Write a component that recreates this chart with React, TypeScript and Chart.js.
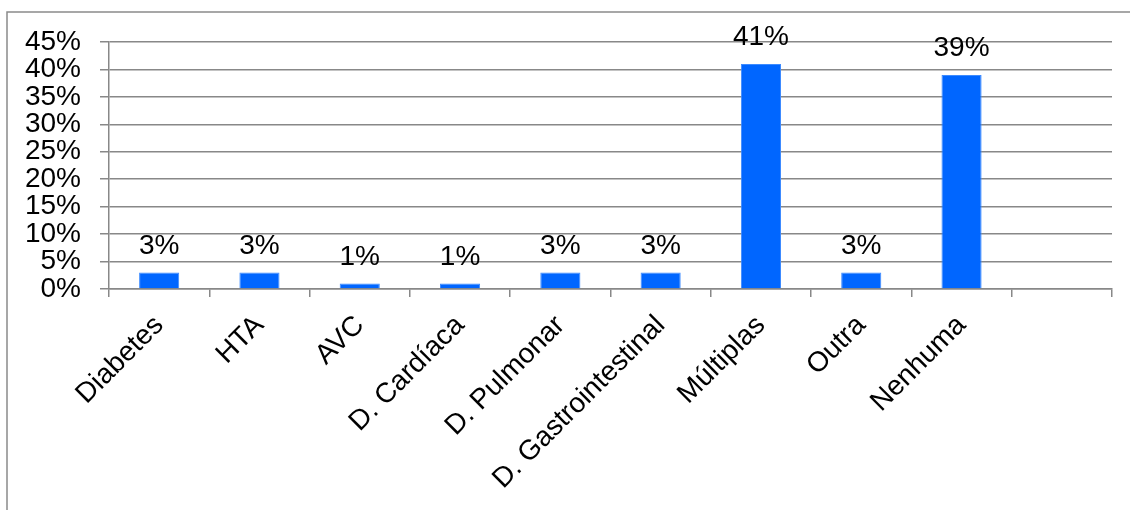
import React, { useEffect, useRef } from "react";
import { Chart, registerables } from "chart.js";

Chart.register(...registerables);

const categories = [
  "Diabetes",
  "HTA",
  "AVC",
  "D. Cardíaca",
  "D. Pulmonar",
  "D. Gastrointestinal",
  "Múltiplas",
  "Outra",
  "Nenhuma",
  "",
];
const percentages: (number | null)[] = [3, 3, 1, 1, 3, 3, 41, 3, 39, null];
const yTicks = [0, 5, 10, 15, 20, 25, 30, 35, 40, 45];

const FONT = "'Liberation Sans', Arial, sans-serif";
const GRID = "#888888";

// white page plus the thin frame around the whole chart
const framePlugin = {
  id: "frame",
  beforeDraw(chart: any) {
    const { ctx, width, height } = chart;
    ctx.save();
    ctx.fillStyle = "#ffffff";
    ctx.fillRect(0, 0, width, height);
    ctx.strokeStyle = "#8a8a8a";
    ctx.lineWidth = 1.5;
    ctx.strokeRect(7, 12, width + 20, height + 20);
    ctx.restore();
  },
};

// percentage label above each bar
const valueLabelPlugin = {
  id: "valueLabels",
  afterDatasetsDraw(chart: any) {
    const { ctx } = chart;
    const meta = chart.getDatasetMeta(0);
    ctx.save();
    ctx.font = `28px ${FONT}`;
    ctx.fillStyle = "#000000";
    ctx.textAlign = "center";
    ctx.textBaseline = "alphabetic";
    meta.data.forEach((bar: any, i: number) => {
      const v = percentages[i];
      if (v === null || v === undefined) return;
      ctx.fillText(`${v}%`, bar.x, bar.y - 19);
    });
    ctx.restore();
  },
};

export default function App() {
  const canvasRef = useRef<HTMLCanvasElement | null>(null);

  useEffect(() => {
    document.body.style.margin = "0";
    const canvas = canvasRef.current;
    if (!canvas) return;
    const chart = new Chart(canvas, {
      type: "bar",
      data: {
        labels: categories,
        datasets: [
          {
            data: percentages,
            backgroundColor: "#0066ff",
            borderColor: "#3d8bff",
            borderWidth: 1,
            barPercentage: 0.4,
            categoryPercentage: 1,
          },
        ],
      },
      options: {
        animation: false,
        responsive: false,
        maintainAspectRatio: false,
        layout: { padding: { left: 0, top: 42, right: 18, bottom: 0 } },
        plugins: {
          legend: { display: false },
          tooltip: { enabled: false },
        },
        scales: {
          x: {
            offset: true,
            grid: {
              display: true,
              offset: true,
              drawOnChartArea: false,
              drawTicks: true,
              tickLength: 8,
              color: GRID,
              lineWidth: 1.5,
            },
            border: { display: true, color: GRID, width: 1.5 },
            ticks: {
              autoSkip: false,
              minRotation: 45,
              maxRotation: 45,
              padding: 12,
              color: "#000000",
              font: { family: FONT, size: 28 },
            },
            afterFit(scale: any) {
              scale.height = 221;
            },
          },
          y: {
            min: 0,
            max: 45,
            afterBuildTicks(scale: any) {
              scale.ticks = yTicks.map((v) => ({ value: v }));
            },
            grid: {
              color: GRID,
              lineWidth: 1.5,
              tickLength: 9,
              drawTicks: true,
            },
            border: { display: true, color: GRID, width: 1.5 },
            ticks: {
              autoSkip: false,
              padding: 19,
              color: "#000000",
              font: { family: FONT, size: 28 },
              callback: (v: any) => `${v}%`,
            },
            afterFit(scale: any) {
              scale.width = 109;
            },
          },
        },
      },
      plugins: [framePlugin, valueLabelPlugin],
    });
    return () => chart.destroy();
  }, []);

  return (
    <div style={{ width: 1130, height: 510 }}>
      <canvas ref={canvasRef} width={1130} height={510} style={{ display: "block" }} />
    </div>
  );
}
